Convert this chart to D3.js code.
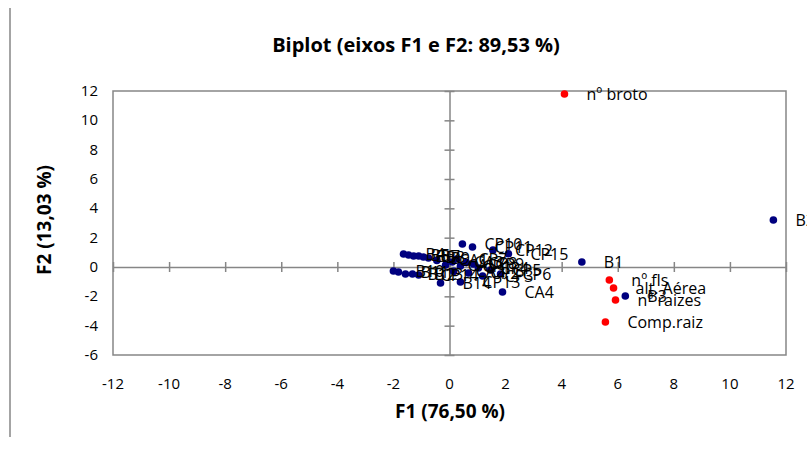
<!DOCTYPE html>
<html>
<head>
<meta charset="utf-8">
<script src="https://cdn.jsdelivr.net/npm/d3@7"></script>
<style>
    body { margin: 0; background: #fff; }
    svg text { font-family: "Open Sans", Lato, sans-serif; fill: #000; }
</style>
</head>
<body>
<svg id="chart" width="807" height="453"></svg>
<script>
// observations (navy) - labels and coordinates on F1 / F2
const obsLabels = ["B1", "B2", "B3", "B4", "B5", "B6", "B7", "B8", "B9", "B10", "B11", "B12", "B13", "CP14",
    "B14", "CP13", "CA3", "CA4", "CA5", "CP1", "CP2", "CP3", "CP4", "CP5", "CP6", "CP7", "CP8", "CP9",
    "CP10", "CP11", "CP12", "CP15", "CA1", "CA2"];
const obsF1 = [4.72, 11.55, 6.27, -1.64, -1.46, -1.28, -1.10, -0.93, -0.75, -2.00, -1.82, -1.57, -1.32, -1.10,
    -0.32, 0.39, 0.10, 1.89, -0.14, 0.39, 0.68, 1.18, 1.03, 1.46, 1.82, 0.25, 0.60, 0.85,
    0.46, 0.82, 1.55, 2.10, -0.45, 0.15];
const obsF2 = [0.34, 3.20, -1.98, 0.89, 0.82, 0.75, 0.75, 0.68, 0.61, -0.27, -0.34, -0.48, -0.48, -0.55,
    -1.09, -1.02, 0.34, -1.70, 0.14, 0.07, -0.41, -0.61, -0.07, -0.20, -0.48, 0.55, 0.30, 0.20,
    1.57, 1.36, 1.15, 0.90, 0.45, -0.30];

// variables (red)
const varLabels = ["nº broto", "nº fls", "alt. Aérea", "nº raizes", "Comp.raiz"];
const varF1 = [4.10, 5.70, 5.85, 5.92, 5.56];
const varF2 = [11.80, -0.89, -1.43, -2.25, -3.75];

const xTicks = [-12, -10, -8, -6, -4, -2, 0, 2, 4, 6, 8, 10, 12];
const yTicks = [-6, -4, -2, 0, 2, 4, 6, 8, 10, 12];

const svg = d3.select("#chart");
const x = d3.scaleLinear().domain([-12, 12]).range([113, 786]);
const y = d3.scaleLinear().domain([-6, 12]).range([355, 91]);
const grey = "#868686";

// outer frame edge
svg.append("line")
    .attr("x1", 10).attr("x2", 10).attr("y1", 8).attr("y2", 437)
    .attr("stroke", grey).attr("stroke-width", 1.5);

// plot border
svg.append("rect")
    .attr("x", x(-12)).attr("y", y(12))
    .attr("width", x(12) - x(-12)).attr("height", y(-6) - y(12))
    .attr("fill", "none").attr("stroke", grey).attr("stroke-width", 1.5);

// axes through the origin, ticks crossing the line
const xAxis = svg.append("g")
    .attr("transform", "translate(0," + y(0) + ")")
    .call(d3.axisBottom(x).tickValues(xTicks).tickSize(5).tickSizeOuter(0).tickFormat(""));
xAxis.select(".domain").attr("stroke", grey).attr("stroke-width", 1.5);
xAxis.selectAll(".tick line").attr("y1", -5).attr("stroke", grey).attr("stroke-width", 1.5);

const yAxis = svg.append("g")
    .attr("transform", "translate(" + x(0) + ",0)")
    .call(d3.axisLeft(y).tickValues(yTicks).tickSize(5).tickSizeOuter(0).tickFormat(""));
yAxis.select(".domain").attr("stroke", grey).attr("stroke-width", 1.5);
yAxis.selectAll(".tick line").attr("x1", 5).attr("stroke", grey).attr("stroke-width", 1.5);

// tick labels outside the frame
svg.append("g")
    .selectAll("text")
    .data(xTicks)
    .join("text")
    .attr("x", d => x(d))
    .attr("y", 389)
    .attr("text-anchor", "middle")
    .attr("font-size", 15)
    .text(d => d);

svg.append("g")
    .selectAll("text")
    .data(yTicks)
    .join("text")
    .attr("x", 98)
    .attr("y", d => y(d) + 5)
    .attr("text-anchor", "end")
    .attr("font-size", 15)
    .text(d => d);

// titles
svg.append("text")
    .attr("x", 416).attr("y", 52)
    .attr("text-anchor", "middle")
    .attr("font-size", 20).attr("font-weight", "bold")
    .text("Biplot (eixos F1 e F2: 89,53 %)");

svg.append("text")
    .attr("x", 450).attr("y", 418)
    .attr("text-anchor", "middle")
    .attr("font-size", 19).attr("font-weight", "bold")
    .text("F1 (76,50 %)");

svg.append("text")
    .attr("transform", "translate(51,220) rotate(-90)")
    .attr("text-anchor", "middle")
    .attr("font-size", 19).attr("font-weight", "bold")
    .text("F2 (13,03 %)");

// points + labels
const obs = obsLabels.map((l, i) => ({label: l, f1: obsF1[i], f2: obsF2[i]}));
const vars = varLabels.map((l, i) => ({label: l, f1: varF1[i], f2: varF2[i]}));

function drawSet(data, colour) {
    const g = svg.append("g");
    g.selectAll("circle")
        .data(data)
        .join("circle")
        .attr("cx", d => x(d.f1))
        .attr("cy", d => y(d.f2))
        .attr("r", 3.8)
        .attr("fill", colour);
    g.selectAll("text")
        .data(data)
        .join("text")
        .attr("x", d => x(d.f1) + 22)
        .attr("y", d => y(d.f2) + 6)
        .attr("font-size", 16)
        .text(d => d.label);
}

drawSet(obs, "#00007f");
drawSet(vars, "#ff0000");
</script>
</body>
</html>
